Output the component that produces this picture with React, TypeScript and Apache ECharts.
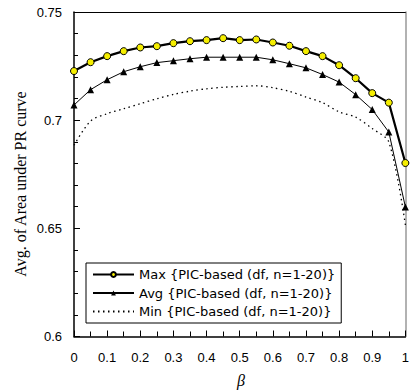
import React, { useEffect, useRef } from "react";
import * as echarts from "echarts";

const betaValues = [0, 0.05, 0.1, 0.15, 0.2, 0.25, 0.3, 0.35, 0.4, 0.45, 0.5, 0.55, 0.6, 0.65, 0.7, 0.75, 0.8, 0.85, 0.9, 0.95, 1];
const maxVals = [0.7227, 0.7268, 0.7296, 0.7319, 0.7336, 0.7342, 0.7356, 0.7365, 0.737, 0.7379, 0.737, 0.7373, 0.7359, 0.7344, 0.7319, 0.7296, 0.7254, 0.7194, 0.7125, 0.7081, 0.6802];
const avgVals = [0.707, 0.7141, 0.7187, 0.7224, 0.7247, 0.7266, 0.7275, 0.7284, 0.7291, 0.7291, 0.7291, 0.7291, 0.7279, 0.7261, 0.7242, 0.7211, 0.7176, 0.7118, 0.7049, 0.6945, 0.6599];
const minVals = [0.6884, 0.6996, 0.703, 0.7053, 0.7076, 0.7099, 0.7119, 0.7134, 0.7145, 0.7152, 0.7156, 0.7159, 0.715, 0.7133, 0.7107, 0.7081, 0.7038, 0.7014, 0.6961, 0.6899, 0.6515];
const seriesNames = ["Max {PIC-based (df, n=1-20)}", "Avg {PIC-based (df, n=1-20)}", "Min {PIC-based (df, n=1-20)}"];
const yTitle = "Avg. of Area under PR curve";
const xTitle = "β";

const pair = (vals: number[]) => betaValues.map((b, i) => [b, vals[i]]);

export default function App() {
  const ref = useRef<HTMLDivElement>(null);
  useEffect(() => {
    if (!ref.current) return;
    const chart = echarts.init(ref.current, null, { renderer: "svg" });
    const sans = "Liberation Sans";
    const serif = "Liberation Serif";
    chart.setOption({
      animation: false,
      backgroundColor: "#fff",
      grid: { left: 74, right: 5, top: 12, bottom: 53.5 },
      xAxis: [
        {
          type: "value",
          min: 0,
          max: 1,
          interval: 0.1,
          axisLine: { lineStyle: { color: "#000", width: 1.5 } },
          axisTick: { inside: true, length: 6, lineStyle: { color: "#000" } },
          minorTick: { show: true, splitNumber: 2, length: 5, lineStyle: { color: "#000" } },
          splitLine: { show: false },
          axisLabel: {
            color: "#000",
            fontFamily: sans,
            fontSize: 13,
            margin: 14,
            formatter: (v: number) => String(Math.round(v * 10) / 10),
          },
        },
        {
          type: "value",
          position: "top",
          min: 0,
          max: 1,
          axisLine: { show: true, onZero: false, lineStyle: { color: "#000", width: 1 } },
          axisTick: { show: false },
          axisLabel: { show: false },
          splitLine: { show: false },
        },
      ],
      yAxis: [
        {
          type: "value",
          min: 0.6,
          max: 0.75,
          interval: 0.05,
          axisLine: { show: true, lineStyle: { color: "#000", width: 1.5 } },
          axisTick: { inside: true, length: 6, lineStyle: { color: "#000" } },
          minorTick: { show: true, splitNumber: 5, length: 4, lineStyle: { color: "#000" } },
          splitLine: { show: false },
          axisLabel: {
            color: "#000",
            fontFamily: sans,
            fontSize: 13,
            margin: 12,
            formatter: (v: number) => String(Math.round(v * 100) / 100),
          },
        },
        {
          type: "value",
          position: "right",
          min: 0.6,
          max: 0.75,
          axisLine: { show: true, onZero: false, lineStyle: { color: "#999", width: 1.5 } },
          axisTick: { show: false },
          axisLabel: { show: false },
          splitLine: { show: false },
        },
      ],
      legend: {
        orient: "vertical",
        left: 86,
        top: 263,
        padding: [5, 6, 5, 6],
        itemWidth: 41,
        itemHeight: 6,
        itemGap: 5.5,
        backgroundColor: "#fff",
        borderColor: "#000",
        borderWidth: 1,
        borderRadius: 0,
        textStyle: { color: "#000", fontFamily: "DejaVu Sans", fontSize: 13 },
        data: [
          { name: seriesNames[0] },
          { name: seriesNames[1] },
          { name: seriesNames[2], itemStyle: { opacity: 0 } },
        ],
      },
      graphic: [
        {
          type: "text",
          x: 20,
          y: 184,
          rotation: Math.PI / 2,
          style: {
            text: yTitle,
            fontFamily: serif,
            fontSize: 16,
            fill: "#000",
            align: "center",
            verticalAlign: "middle",
          },
        },
        {
          type: "text",
          x: 241,
          y: 380,
          style: {
            text: xTitle,
            fontFamily: serif,
            fontStyle: "italic",
            fontSize: 16,
            fill: "#000",
            align: "center",
            verticalAlign: "middle",
          },
        },
      ],
      series: [
        {
          name: seriesNames[0],
          type: "line",
          data: pair(maxVals),
          symbol: "circle",
          symbolSize: 7,
          lineStyle: { color: "#000", width: 2.2 },
          itemStyle: { color: "#f5ee00", borderColor: "#000", borderWidth: 1 },
          z: 4,
        },
        {
          name: seriesNames[1],
          type: "line",
          data: pair(avgVals),
          symbol: "triangle",
          symbolSize: 7,
          lineStyle: { color: "#000", width: 1 },
          itemStyle: { color: "#000" },
          z: 3,
        },
        {
          name: seriesNames[2],
          type: "line",
          data: pair(minVals),
          symbol: "none",
          smooth: 0.3,
          lineStyle: { color: "#000", width: 1.3, type: [1.5, 3.5] },
          itemStyle: { color: "#000" },
          z: 2,
        },
      ],
    });
    return () => chart.dispose();
  }, []);
  return (
    <div
      ref={ref}
      style={{ position: "fixed", left: 0, top: 0, width: 412, height: 390 }}
    />
  );
}
